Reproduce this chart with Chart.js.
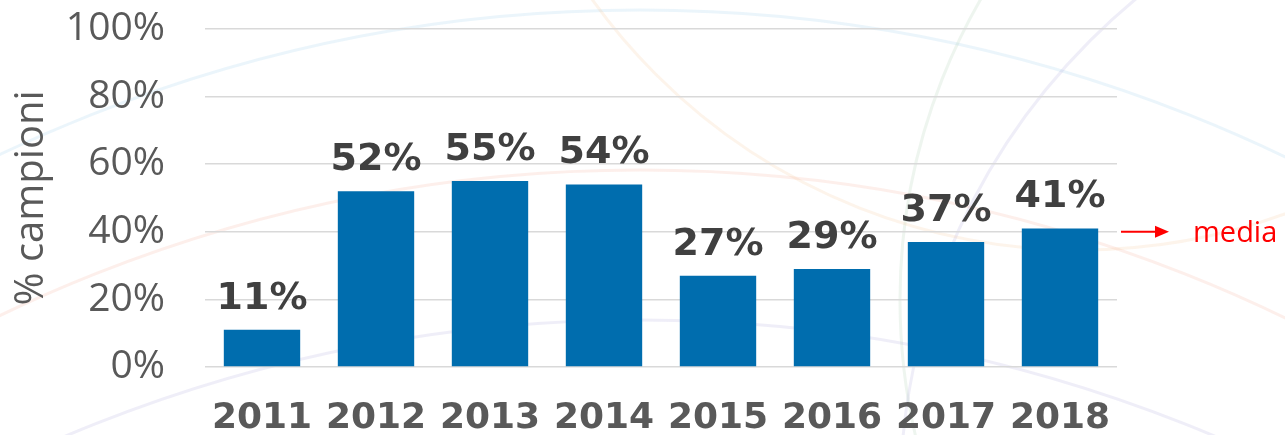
<!DOCTYPE html>
<html>
<head>
<meta charset="utf-8">
<script src="https://cdn.jsdelivr.net/npm/chart.js@4"></script>
<style>
  html, body { margin: 0; padding: 0; background: #ffffff; }
  #wrap { width: 1285px; height: 435px; position: relative; }
</style>
</head>
<body>
<div id="wrap"><canvas id="chart" width="1285" height="435"></canvas></div>
<script>
var anni = ['2011', '2012', '2013', '2014', '2015', '2016', '2017', '2018'];
var percentuali = [11, 52, 55, 54, 27, 29, 37, 41];
var livelloMedia = 40;

var grigioTesto = '#595959';

// archi decorativi dello sfondo
const sfondo = {
    id: 'sfondo',
    beforeDraw(chart) {
        const ctx = chart.ctx;
        const archi = [
            ['rgba(120,190,230,0.15)', 640, 1500, 1490],
            ['rgba(240,150,120,0.15)', 640, 1650, 1480],
            ['rgba(150,140,210,0.15)', 640, 1800, 1480],
            ['rgba(240,180,120,0.15)', 640, 1950, 1500],
            ['rgba(140,190,150,0.15)', 1500, 300, 600],
            ['rgba(150,140,210,0.15)', 1550, 500, 650],
            ['rgba(240,180,120,0.15)', 1080, -350, 600]
        ];
        ctx.save();
        ctx.lineWidth = 3;
        archi.forEach(a => {
            ctx.strokeStyle = a[0];
            ctx.beginPath();
            ctx.arc(a[1], a[2], a[3], 0, Math.PI * 2);
            ctx.stroke();
        });
        ctx.restore();
    }
};

const etichette = {
    id: 'etichette',
    afterDatasetsDraw(chart) {
        const ctx = chart.ctx;
        const meta = chart.getDatasetMeta(0);
        ctx.save();
        ctx.font = 'bold 38px "DejaVu Sans"';
        ctx.fillStyle = '#404040';
        ctx.textAlign = 'center';
        ctx.textBaseline = 'bottom';
        meta.data.forEach((bar, i) => {
            ctx.fillText(percentuali[i] + '%', bar.x, bar.y - 12);
        });

        // freccia "media"
        const y = chart.scales.y.getPixelForValue(livelloMedia);
        const x0 = chart.chartArea.right + 4;
        ctx.strokeStyle = '#ff0000';
        ctx.fillStyle = '#ff0000';
        ctx.lineWidth = 2;
        ctx.beginPath();
        ctx.moveTo(x0, y);
        ctx.lineTo(x0 + 38, y);
        ctx.stroke();
        ctx.beginPath();
        ctx.moveTo(x0 + 48, y);
        ctx.lineTo(x0 + 34, y - 6);
        ctx.lineTo(x0 + 34, y + 6);
        ctx.closePath();
        ctx.fill();
        ctx.font = '29px "Open Sans"';
        ctx.textAlign = 'left';
        ctx.textBaseline = 'middle';
        ctx.fillText('media', x0 + 72, y + 2);
        ctx.restore();
    }
};

var ctx = document.getElementById('chart').getContext('2d');

var chart = new Chart(ctx, {
    type: 'bar',
    data: {
        labels: anni,
        datasets: [{
            data: percentuali,
            backgroundColor: '#006DAE',
            barPercentage: 0.67,
            categoryPercentage: 1
        }]
    },
    options: {
        responsive: false,
        animation: false,
        layout: { padding: { top: 29, right: 168, left: 8, bottom: 0 } },
        plugins: {
            legend: { display: false },
            tooltip: { enabled: false }
        },
        scales: {
            x: {
                grid: { display: false },
                border: { display: false },
                ticks: {
                    color: grigioTesto,
                    font: { family: 'DejaVu Sans', size: 36, weight: 'bold' },
                    padding: 22,
                    maxRotation: 0,
                    autoSkip: false
                },
                afterFit: function(scale) {
                    scale.height = 68;
                    scale.paddingLeft = 0;
                    scale.paddingRight = 0;
                }
            },
            y: {
                min: 0,
                max: 100,
                grid: { color: '#d9d9d9', lineWidth: 1.5, drawTicks: false },
                border: { display: false },
                ticks: {
                    stepSize: 20,
                    color: grigioTesto,
                    padding: 40,
                    font: { family: 'Open Sans', size: 39 },
                    callback: function(v) { return v + '%'; }
                },
                title: {
                    display: true,
                    text: '% campioni',
                    color: grigioTesto,
                    font: { family: 'Open Sans', size: 40 },
                    padding: { top: 0, bottom: 0 }
                },
                afterFit: function(scale) {
                    scale.width = 197;
                    scale.paddingTop = 0;
                    scale.paddingBottom = 0;
                }
            }
        }
    },
    plugins: [sfondo, etichette]
});
</script>
</body>
</html>
